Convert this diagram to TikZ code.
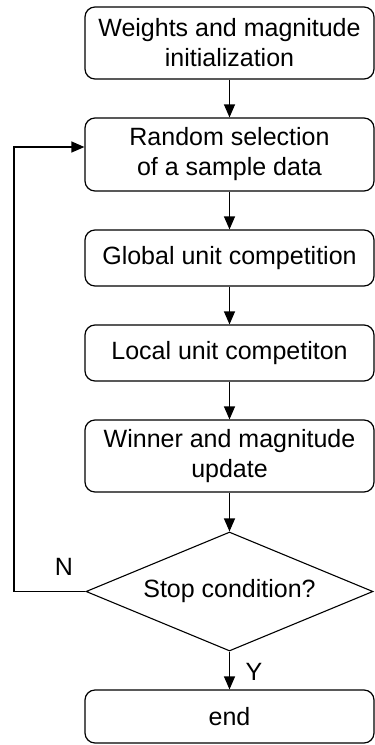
\documentclass[tikz,border=0pt]{standalone}
\usepackage{fontspec}
\setmainfont{Liberation Sans}
\usetikzlibrary{shapes.geometric,arrows.meta}
\begin{document}
\begin{tikzpicture}[x=1pt,y=-1pt,
  every node/.style={font=\fontsize{25}{30}\selectfont},
  procbox/.style={draw, line width=1.2pt, rounded corners=10pt, minimum width=289pt, align=center, inner sep=0pt},
  decide/.style={draw, line width=1.1pt, diamond, minimum width=287pt, minimum height=119pt, aspect=2.41, inner sep=0pt},
  arr/.style={line width=1.2pt, -{Triangle[length=13pt,width=11pt]}},
  lbl/.style={inner sep=0pt}]
\useasboundingbox (0,0) rectangle (375,745);
\node[procbox, minimum height=72pt] (b1) at (229.5,43) {Weights and magnitude\\initialization};
\node[procbox, minimum height=73pt] (b2) at (229.5,154.5) {Random selection\\of a sample data};
\node[procbox, minimum height=56pt] (b3) at (229.5,258) {Global unit competition};
\node[procbox, minimum height=56pt] (b4) at (229.5,353) {Local unit competiton};
\node[procbox, minimum height=72pt] (b5) at (229.5,456) {Winner and magnitude\\update};
\node[decide] (dia) at (229.5,591.5) {Stop condition?};
\node[procbox, minimum height=53pt] (b6) at (229.5,716.5) {end};
\draw[arr] (b1) -- (b2);
\draw[arr] (b2) -- (b3);
\draw[arr] (b3) -- (b4);
\draw[arr] (b4) -- (b5);
\draw[arr] (b5) -- (dia);
\draw[arr] (dia) -- (b6);
\coordinate (fb) at (14,147);
\draw[arr] (dia.west) -| (fb) -- (b2.west |- fb);
\node[lbl] (n) at (64,567) {N};
\node[lbl] (y) at (254,672) {Y};
\end{tikzpicture}
\end{document}
